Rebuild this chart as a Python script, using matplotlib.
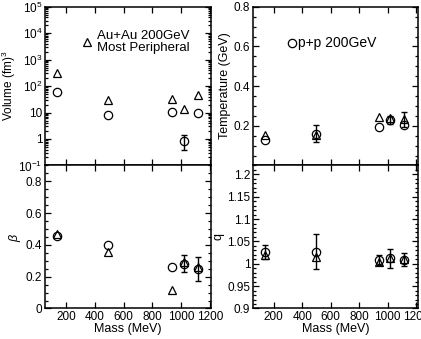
import numpy as np
import matplotlib.pyplot as plt
from matplotlib.ticker import AutoMinorLocator, LogLocator, FixedLocator, NullFormatter

plt.rcParams['font.family'] = ['Liberation Sans', 'DejaVu Sans']
plt.rcParams['font.size'] = 8.5
plt.rcParams['mathtext.fontset'] = 'custom'
plt.rcParams['mathtext.rm'] = 'Liberation Sans'
plt.rcParams['mathtext.it'] = 'Liberation Sans:italic'

mass = [140, 494, 938, 1019, 1116]

# Volume (fm^3)
vol_pp = [60, 7.9, 10.5, 0.86, 10]
vol_pp_lo = [0, 0, 0, 0.47, 0]
vol_pp_hi = [0, 0, 0, 0.6, 0]
vol_au = [300, 30, 33, 14, 45]

# Temperature (GeV)
temp_pp = [0.127, 0.16, 0.196, 0.227, 0.202]
temp_pp_err = [0, 0.042, 0, 0.02, 0]
temp_au = [0.152, 0.155, 0.245, 0.238, 0.232]
temp_au_err = [0, 0, 0, 0, 0.038]

# beta
beta_pp = [0.458, 0.40, 0.258, 0.283, 0.251]
beta_pp_err = [0, 0, 0, 0.053, 0.076]
beta_au = [0.47, 0.357, 0.118, 0.29, 0.26]

# q
q_pp = [1.026, 1.027, 1.009, 1.012, 1.009]
q_pp_err = [0.015, 0.039, 0.011, 0.022, 0.015]
q_au = [1.019, 1.015, 1.005, 1.012, 1.010]

fig = plt.figure(figsize=(4.21, 3.39), dpi=100)
ax_v = fig.add_axes([0.107, 0.512, 0.395, 0.468])
ax_t = fig.add_axes([0.601, 0.512, 0.391, 0.468])
ax_b = fig.add_axes([0.107, 0.090, 0.395, 0.422])
ax_q = fig.add_axes([0.601, 0.090, 0.391, 0.422])

mk = dict(linestyle='none', markerfacecolor='none', markeredgecolor='black',
          markeredgewidth=0.9, markersize=6)


def draw(ax, circ, tri, cerr=None, terr=None):
    x = np.array(mass)
    if cerr is not None:
        cerr = np.atleast_2d(np.array(cerr, dtype=float))
        m = cerr.max(axis=0) > 0
        ax.errorbar(x[m], np.array(circ)[m], yerr=cerr[:, m], fmt='none',
                    ecolor='black', elinewidth=1.0, capsize=2, capthick=1.0)
    if terr is not None:
        terr = np.array(terr, dtype=float)
        m = terr > 0
        ax.errorbar(x[m], np.array(tri)[m], yerr=terr[m], fmt='none',
                    ecolor='black', elinewidth=1.0, capsize=2, capthick=1.0)
    ax.plot(x, tri, marker='^', **mk)
    ax.plot(x, circ, marker='o', **mk)


draw(ax_v, vol_pp, vol_au, cerr=[vol_pp_lo, vol_pp_hi])
draw(ax_t, temp_pp, temp_au, cerr=temp_pp_err, terr=temp_au_err)
draw(ax_b, beta_pp, beta_au, cerr=beta_pp_err)
draw(ax_q, q_pp, q_au, cerr=q_pp_err)

for ax in (ax_v, ax_t, ax_b, ax_q):
    ax.set_xlim(55, 1210)
    ax.xaxis.set_major_locator(FixedLocator([200, 400, 600, 800, 1000, 1200]))
    ax.tick_params(which='both', direction='in', top=True, right=True, width=0.9)
    ax.tick_params(which='major', length=4, pad=2, labelsize=8.5)
    ax.tick_params(which='minor', length=2)
    for s in ax.spines.values():
        s.set_linewidth(1.1)

for ax in (ax_v, ax_t):
    ax.tick_params(labelbottom=False)

ax_v.set_yscale('log')
ax_v.set_ylim(0.1, 1e5)
ax_v.yaxis.set_minor_locator(LogLocator(base=10, subs=np.arange(2, 10), numticks=20))
ax_v.yaxis.set_minor_formatter(NullFormatter())
ax_v.set_yticks([0.1, 1, 10, 100, 1e3, 1e4, 1e5])
ax_v.set_yticklabels([r'$10^{-1}$', '1', '10', r'$10^{2}$', r'$10^{3}$', r'$10^{4}$', r'$10^{5}$'])
ax_v.set_ylabel(r'Volume (fm)$^3$', labelpad=0, fontsize=8.5)

ax_t.set_ylim(0, 0.8)
ax_t.set_yticks([0.2, 0.4, 0.6, 0.8])
ax_t.yaxis.set_minor_locator(AutoMinorLocator(4))
ax_t.set_ylabel('Temperature (GeV)', labelpad=2, fontsize=9)

ax_b.set_ylim(0, 0.9)
ax_b.set_yticks([0, 0.2, 0.4, 0.6, 0.8])
ax_b.set_yticklabels(['0', '0.2', '0.4', '0.6', '0.8'])
ax_b.yaxis.set_minor_locator(AutoMinorLocator(4))
ax_b.set_ylabel(r'$\beta$', labelpad=2, fontsize=9)
ax_b.set_xlabel('Mass (MeV)', labelpad=0, fontsize=9)

ax_q.set_ylim(0.9, 1.22)
ax_q.set_yticks([0.9, 0.95, 1.0, 1.05, 1.1, 1.15, 1.2])
ax_q.set_yticklabels(['0.9', '0.95', '1', '1.05', '1.1', '1.15', '1.2'])
ax_q.yaxis.set_minor_locator(AutoMinorLocator(5))
ax_q.set_ylabel('q', labelpad=2, fontsize=9)
ax_q.set_xlabel('Mass (MeV)', labelpad=0, fontsize=9)

# legends
ax_v.plot([0.25], [0.78], transform=ax_v.transAxes, marker='^', **mk)
ax_v.text(0.31, 0.78, 'Au+Au 200GeV\nMost Peripheral', transform=ax_v.transAxes,
          fontsize=9.5, va='center', ha='left', linespacing=1.0)
ax_t.plot([0.236], [0.773], transform=ax_t.transAxes, marker='o', **mk)
ax_t.text(0.275, 0.773, 'p+p 200GeV', transform=ax_t.transAxes,
          fontsize=10, va='center', ha='left')

fig.savefig('out.png', dpi=100)
